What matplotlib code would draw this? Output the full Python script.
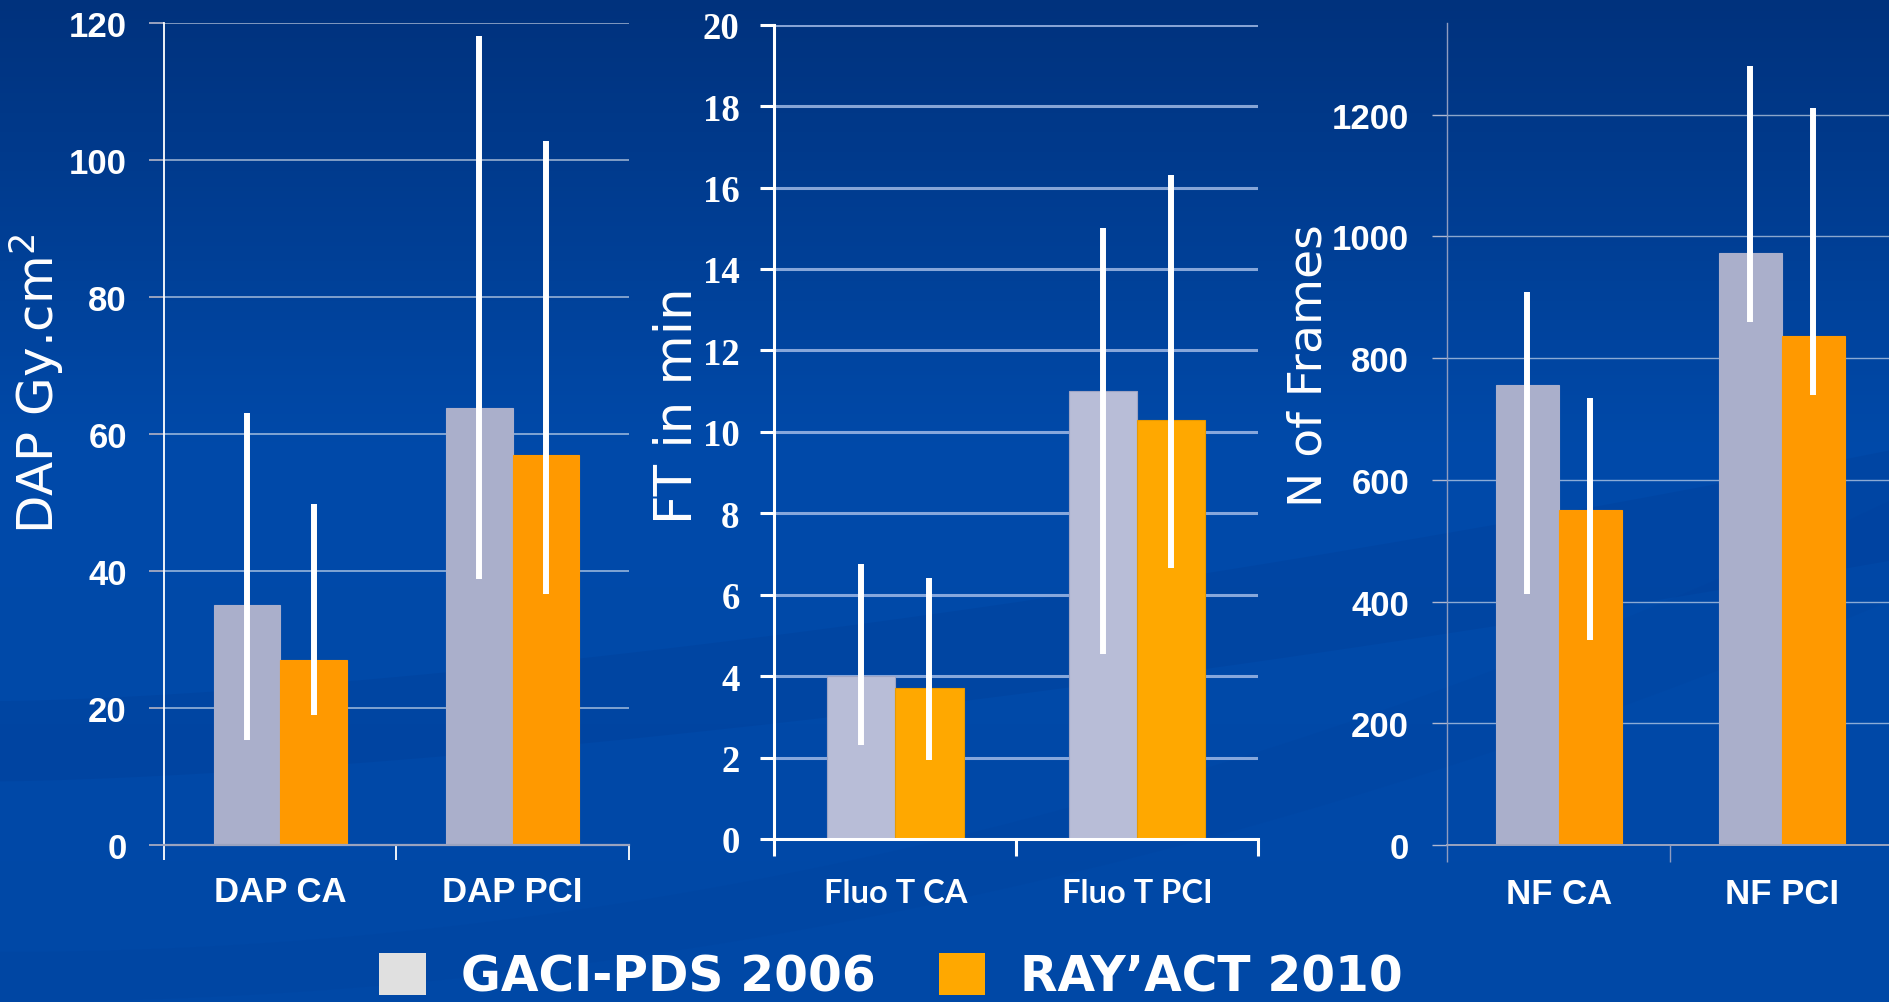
import numpy as np
import matplotlib
matplotlib.use("Agg")
from matplotlib import pyplot as plt
from matplotlib.patches import Patch

# data
series = ["GACI-PDS 2006", "RAY\u2019ACT 2010"]

dap_cats = ["DAP CA", "DAP PCI"]
dap_gaci = [35.0, 63.8]
dap_ray = [27.0, 56.9]
dap_gaci_lo = [15.3, 38.8]
dap_gaci_hi = [63.1, 118.2]
dap_ray_lo = [19.0, 36.6]
dap_ray_hi = [49.8, 102.8]

ft_cats = ["Fluo T CA", "Fluo T PCI"]
ft_gaci = [4.0, 11.0]
ft_ray = [3.7, 10.3]
ft_gaci_lo = [2.3, 4.55]
ft_gaci_hi = [6.75, 15.0]
ft_ray_lo = [1.95, 6.65]
ft_ray_hi = [6.4, 16.3]

nf_cats = ["NF CA", "NF PCI"]
nf_gaci = [755, 972]
nf_ray = [551, 836]
nf_gaci_lo = [412, 859]
nf_gaci_hi = [908, 1280]
nf_ray_lo = [337, 740]
nf_ray_hi = [734, 1211]

W, H = 1890, 1003
DPI = 100


def px(x0, y_top, x1, y_bot):
    # pixel box -> figure fraction rect
    return [x0 / W, (H - y_bot) / H, (x1 - x0) / W, (y_bot - y_top) / H]


def draw_panel(ax, cats, a, b, a_lo, a_hi, b_lo, b_hi, width, cols, edge):
    x = np.arange(len(cats))
    a = np.array(a)
    b = np.array(b)
    ax.bar(x - width / 2, a, width, color=cols[0], edgecolor=edge[0], linewidth=0.8, zorder=2)
    ax.bar(x + width / 2, b, width, color=cols[1], edgecolor=edge[1], linewidth=0.8, zorder=2)
    ax.errorbar(x - width / 2, a, yerr=[a - np.array(a_lo), np.array(a_hi) - a],
                fmt="none", ecolor="white", elinewidth=4.3, capsize=0, zorder=3)
    ax.errorbar(x + width / 2, b, yerr=[b - np.array(b_lo), np.array(b_hi) - b],
                fmt="none", ecolor="white", elinewidth=4.3, capsize=0, zorder=3)
    ax.set_xlim(-0.5, len(cats) - 0.5)
    ax.set_xticks(np.arange(len(cats) + 1) - 0.5)
    ax.set_xticklabels([])
    ax.set_xticks(x, minor=True)
    ax.set_xticklabels(cats, minor=True)
    ax.tick_params(axis="x", which="minor", length=0)
    ax.set_facecolor("none")
    ax.set_axisbelow(True)
    for s in ["top", "right"]:
        ax.spines[s].set_visible(False)


fig = plt.figure(figsize=(W / DPI, H / DPI), dpi=DPI)

# background gradient
bg = fig.add_axes([0, 0, 1, 1], zorder=-10)
t = np.linspace(0, 1, 256)
top = np.array([0, 50, 125]) / 255
mid = np.array([0, 74, 170]) / 255
low = np.array([0, 72, 166]) / 255
k = np.clip(t / 0.45, 0, 1)[:, None]
grad = top * (1 - k) + mid * k
grad[t > 0.45] = mid * (1 - (t[t > 0.45, None] - 0.45) / 0.55) + low * ((t[t > 0.45, None] - 0.45) / 0.55)
bg.imshow(grad[:, None, :], aspect="auto", extent=[0, 1, 1, 0])
# faint swooshes like the slide template
sx = np.linspace(0, 1, 200)
bg.fill_between(sx, 1 - (0.30 + 0.25 * sx ** 1.5), 1 - (0.22 + 0.22 * sx ** 1.5),
                color="#002f80", alpha=0.14, lw=0)
bg.fill_between(sx, 1 - (0.05 + 0.45 * sx ** 2), 1 - (0.0 + 0.40 * sx ** 2),
                color="#003a90", alpha=0.10, lw=0)
bg.set_xlim(0, 1)
bg.set_ylim(1, 0)
bg.axis("off")

# ---- panel 1: DAP ----
ax1 = fig.add_axes(px(164.3, 24.3, 628.6, 845.7))
draw_panel(ax1, dap_cats, dap_gaci, dap_ray, dap_gaci_lo, dap_gaci_hi, dap_ray_lo, dap_ray_hi,
           0.287, ["#aaafcb", "#ff9900"], ["#aaafcb", "#ff9900"])
ax1.set_ylim(0, 120)
ax1.set_yticks(np.arange(0, 121, 20))
ax1.yaxis.grid(True, color="white", alpha=0.5, linewidth=1.4)
ax1.spines["left"].set_color("white")
ax1.spines["left"].set_linewidth(1.3)
ax1.spines["bottom"].set_color("#9aa3bf")
ax1.spines["bottom"].set_linewidth(1.6)
ax1.tick_params(axis="y", length=11, width=1.4, color="#9aa3bf", pad=16, labelcolor="white")
ax1.tick_params(axis="x", which="major", length=11, width=1.3, color="white")
ax1.tick_params(axis="x", which="minor", pad=22, labelcolor="white")
for lab in ax1.get_yticklabels() + ax1.get_xticklabels(minor=True):
    lab.set_fontfamily("Liberation Sans")
    lab.set_fontweight("bold")
    lab.set_fontsize(25)

# ---- panel 2: fluoroscopy time ----
ax2 = fig.add_axes(px(774.4, 25.7, 1257.8, 840))
draw_panel(ax2, ft_cats, ft_gaci, ft_ray, ft_gaci_lo, ft_gaci_hi, ft_ray_lo, ft_ray_hi,
           0.283, ["#b8bdd7", "#ffa800"], ["#9ea4c4", "#e89a00"])
ax2.set_ylim(0, 20)
ax2.set_yticks(np.arange(0, 21, 2))
ax2.yaxis.grid(True, color="#a9c0ea", alpha=0.8, linewidth=2.2)
for s in ["left", "bottom"]:
    ax2.spines[s].set_color("white")
    ax2.spines[s].set_linewidth(2.2)
ax2.tick_params(axis="y", length=10, width=2.2, color="white", pad=15, labelcolor="white")
ax2.tick_params(axis="x", which="major", length=12, width=2.2, color="white")
ax2.tick_params(axis="x", which="minor", pad=28, labelcolor="white")
for lab in ax2.get_yticklabels():
    lab.set_fontfamily("Liberation Serif")
    lab.set_fontweight("bold")
    lab.set_fontsize(26.5)
for lab in ax2.get_xticklabels(minor=True):
    lab.set_fontfamily("Lato")
    lab.set_fontweight("bold")
    lab.set_fontsize(23.5)

# ---- panel 3: number of frames ----
ax3 = fig.add_axes(px(1447.3, 24.3, 1893, 846))
draw_panel(ax3, nf_cats, nf_gaci, nf_ray, nf_gaci_lo, nf_gaci_hi, nf_ray_lo, nf_ray_hi,
           0.283, ["#aaafcb", "#ff9900"], ["#aaafcb", "#ff9900"])
ax3.set_ylim(0, 1350)
ax3.set_yticks(np.arange(0, 1201, 200))
ax3.yaxis.grid(True, color="white", alpha=0.55, linewidth=1.0)
ax3.spines["left"].set_color("#8f9cc0")
ax3.spines["left"].set_linewidth(1.0)
ax3.spines["bottom"].set_color("#9aa3bf")
ax3.spines["bottom"].set_linewidth(1.4)
ax3.tick_params(axis="y", length=10.5, width=1.0, color="#b0b8d0", pad=17, labelcolor="white")
ax3.tick_params(axis="x", which="major", length=12, width=1.0, color="#8f9cc0")
ax3.tick_params(axis="x", which="minor", pad=23, labelcolor="white")
for lab in ax3.get_yticklabels() + ax3.get_xticklabels(minor=True):
    lab.set_fontfamily("Liberation Sans")
    lab.set_fontweight("bold")
    lab.set_fontsize(25)

# y axis titles
ylab = dict(rotation=90, ha="center", va="center", color="white", family="DejaVu Sans")
fig.text(36 / W, 1 - 384 / H, r"DAP Gy.cm$^2$", fontsize=36, **ylab)
fig.text(678 / W, 1 - 406 / H, "FT in min", fontsize=37, **ylab)
fig.text(1309 / W, 1 - 366 / H, "N of Frames", fontsize=34, **ylab)

# legend along the bottom
handles = [Patch(facecolor="#e0e0e0", edgecolor="none"), Patch(facecolor="#ffa800", edgecolor="none")]
fig.legend(handles, series, loc="lower left", bbox_to_anchor=(379.5 / W, 1 / H), ncol=2,
           frameon=False, borderpad=0, borderaxespad=0, handlelength=0.95, handleheight=0.95,
           handletextpad=0.72, columnspacing=1.3,
           prop={"family": "DejaVu Sans", "weight": "bold", "size": 35}, labelcolor="white")

fig.savefig("out.png", dpi=DPI)
